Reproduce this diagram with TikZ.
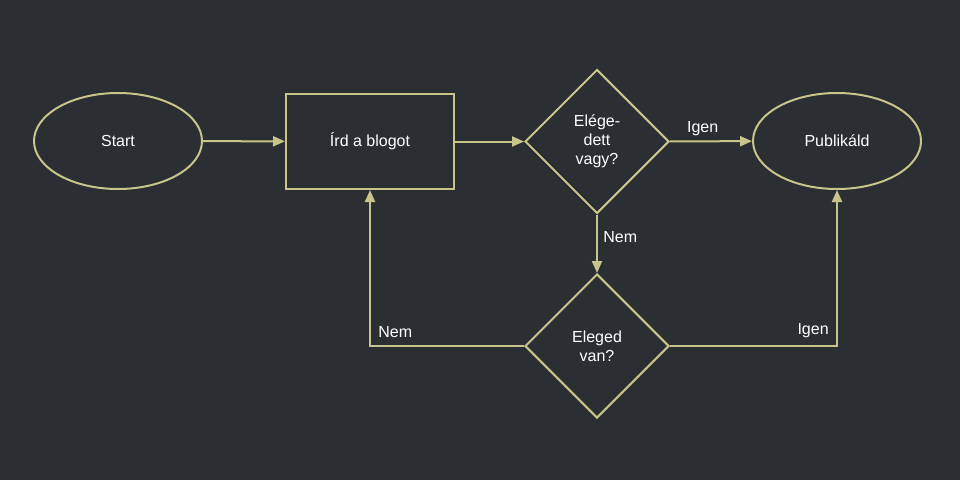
\documentclass[tikz,border=0pt]{standalone}
\usepackage{fontspec}
\setmainfont{Liberation Sans}
\usetikzlibrary{shapes.geometric,arrows.meta}
\definecolor{bg}{RGB}{43,46,51}
\definecolor{ln}{RGB}{200,196,140}
\begin{document}
\begin{tikzpicture}[x=1pt,y=-1pt,
  every node/.style={text=white,font=\fontsize{16}{19}\selectfont},
  sh/.style={draw=ln,line width=2pt,align=center,inner sep=0pt},
  ell/.style={sh,ellipse,minimum width=168pt,minimum height=96pt},
  box/.style={sh,rectangle,minimum width=168pt,minimum height=95pt},
  dia/.style={sh,diamond,minimum width=144pt,minimum height=144pt},
  arr/.style={draw=ln,line width=2pt,-{Triangle[length=12pt,width=10pt]}},
  lab/.style={font=\fontsize{16}{19}\selectfont}]
\fill[bg] (0,0) rectangle (960,480);
\useasboundingbox (0,0) rectangle (960,480);
\node[ell] (start) at (118,141) {Start};
\node[box] (ird) at (370,141.5) {Írd a blogot};
\node[dia] (d1) at (597,141.5) {Elége-\\dett\\vagy?};
\node[ell] (pub) at (837,141) {Publikáld};
\node[dia] (d2) at (597,346) {Eleged\\van?};
\coordinate (c1) at (370,346);
\coordinate (c2) at (837,346);
\draw[arr] (start) -- (ird);
\draw[arr] (ird) -- (d1);
\draw[arr] (d1) -- node[lab,above,pos=0.4,yshift=1pt] {Igen} (pub);
\draw[arr] (d1) -- node[lab,right,pos=0.38,xshift=2pt] {Nem} (d2);
\draw[arr] (d2.west) -- (c1) node[lab,above right,xshift=4pt,yshift=4pt] {Nem} -- (ird.south);
\draw[arr] (d2.east) -- (c2) node[lab,above left,xshift=-4pt,yshift=4pt] {Igen} -- (pub.south);
\end{tikzpicture}
\end{document}
